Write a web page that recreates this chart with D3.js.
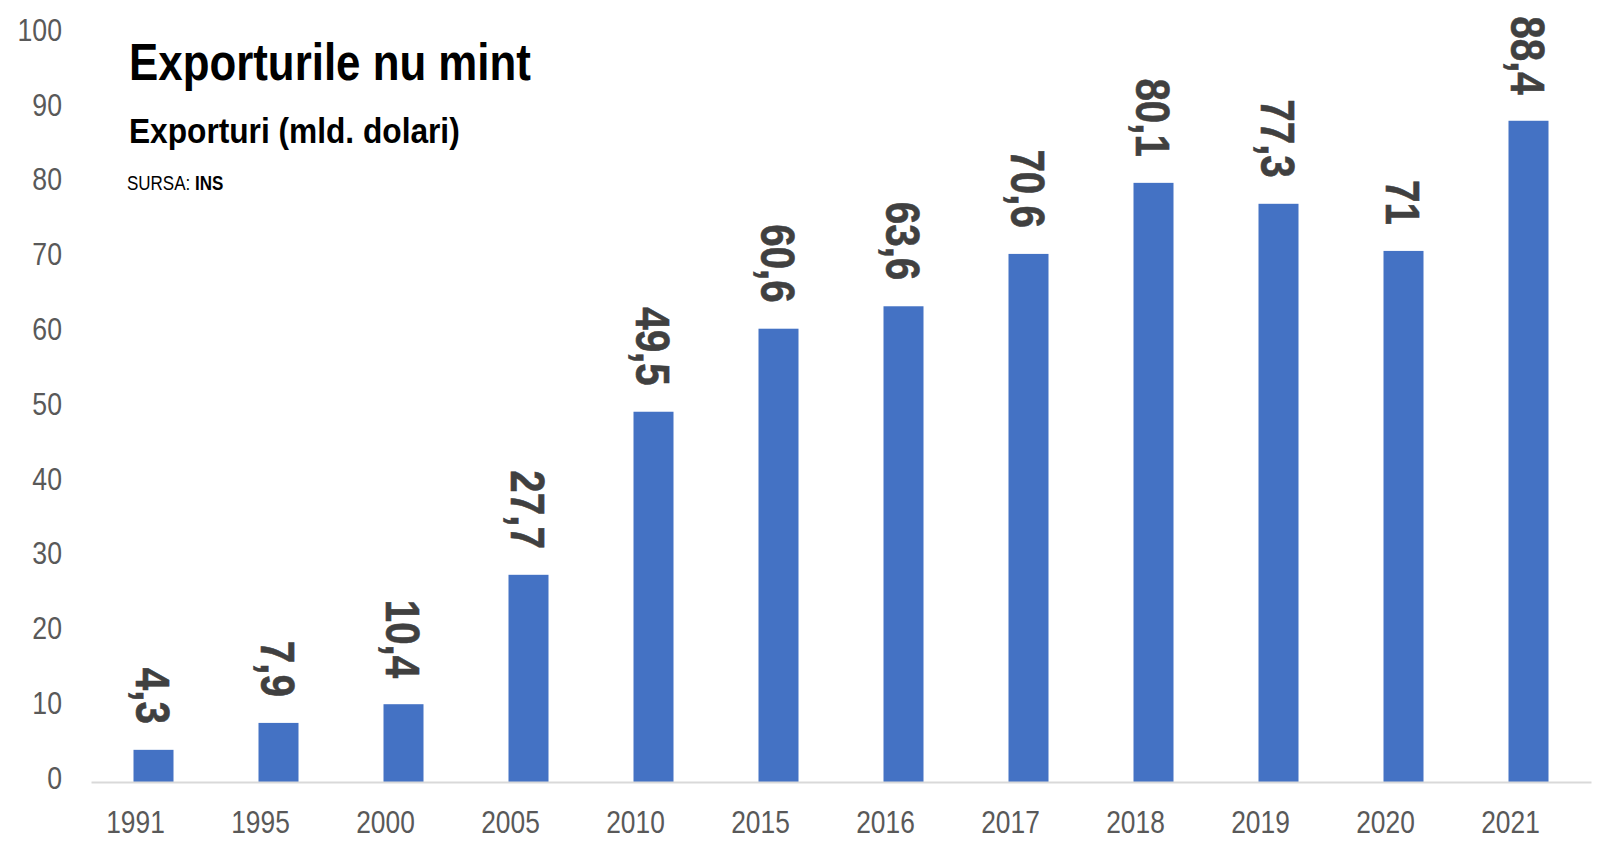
<!DOCTYPE html>
<html>
<head>
<meta charset="utf-8">
<script src="https://cdn.jsdelivr.net/npm/d3@7"></script>
<style>
  html, body { margin: 0; padding: 0; background: #fff; }
  svg { display: block; font-family: "Liberation Sans", Arial, sans-serif; }
</style>
</head>
<body>
<div id="chart"></div>
<script>
// data
var years = ['1991', '1995', '2000', '2005', '2010', '2015', '2016', '2017', '2018', '2019', '2020', '2021']
var exports = [4.3, 7.9, 10.4, 27.7, 49.5, 60.6, 63.6, 70.6, 80.1, 77.3, 71, 88.4]
var yTicks = [0, 10, 20, 30, 40, 50, 60, 70, 80, 90, 100]

var width = 1600, height = 853

var svg = d3.select('#chart').append('svg')
  .attr('width', width)
  .attr('height', height)

var x = d3.scaleBand()
  .domain(years)
  .range([91, 1591])
  .paddingInner(0.68)
  .paddingOuter(0.34)

var y = d3.scaleLinear()
  .domain([0, 100])
  .range([782, 34])

// bars
svg.append('g').selectAll('rect')
  .data(exports)
  .enter().append('rect')
  .attr('x', function(d, i) { return x(years[i]) })
  .attr('y', function(d) { return y(d) })
  .attr('width', x.bandwidth())
  .attr('height', function(d) { return y(0) - y(d) })
  .style('fill', '#4472c4')

// y axis, labels only
var yAxis = svg.append('g')
  .attr('transform', 'translate(62,0)')
  .call(d3.axisLeft(y).tickValues(yTicks).tickSize(0))
yAxis.select('.domain').remove()
yAxis.selectAll('text')
  .attr('x', 0)
  .attr('dy', '0.2em')
  .attr('transform', 'scale(0.86,1)')
  .style('font-size', '31px')
  .style('font-family', '"Liberation Sans", Arial, sans-serif')
  .style('fill', '#595959')

// x axis
var xAxis = svg.append('g')
  .attr('transform', 'translate(0,' + y(0) + ')')
  .call(d3.axisBottom(x).tickSize(0).tickSizeOuter(0))
xAxis.select('.domain')
  .style('stroke', '#d9d9d9')
  .style('stroke-width', 2)
xAxis.selectAll('text')
  .attr('x', -18 / 0.85)
  .attr('y', 51)
  .attr('dy', 0)
  .attr('transform', 'scale(0.85,1)')
  .style('font-size', '31px')
  .style('font-family', '"Liberation Sans", Arial, sans-serif')
  .style('fill', '#595959')

// value labels, turned a quarter clockwise
svg.append('g').selectAll('text')
  .data(exports)
  .enter().append('text')
  .attr('transform', function(d, i) {
    var cx = x(years[i]) + x.bandwidth() / 2
    return 'translate(' + cx + ',' + (y(d) - 26) + ') rotate(90) scale(0.84,1)'
  })
  .attr('text-anchor', 'end')
  .attr('dy', '0.36em')
  .style('font-size', '48px')
  .style('font-weight', 'bold')
  .style('fill', '#404040')
  .style('stroke', '#404040')
  .style('stroke-width', 0.6)
  .text(function(d) { return String(d).replace('.', ',') })

// titles
svg.append('text')
  .attr('transform', 'translate(129,80) scale(0.86,1)')
  .style('font-size', '51px')
  .style('font-weight', 'bold')
  .style('fill', '#000')
  .text('Exporturile nu mint')

svg.append('text')
  .attr('transform', 'translate(129,143) scale(0.88,1)')
  .style('font-size', '36px')
  .style('font-weight', 'bold')
  .style('fill', '#000')
  .text('Exporturi (mld. dolari)')

var source = svg.append('text')
  .attr('transform', 'translate(127,190) scale(0.85,1)')
  .style('font-size', '20px')
  .style('fill', '#000')
source.append('tspan').text('SURSA: ')
source.append('tspan').style('font-weight', 'bold').text('INS')
</script>
</body>
</html>
